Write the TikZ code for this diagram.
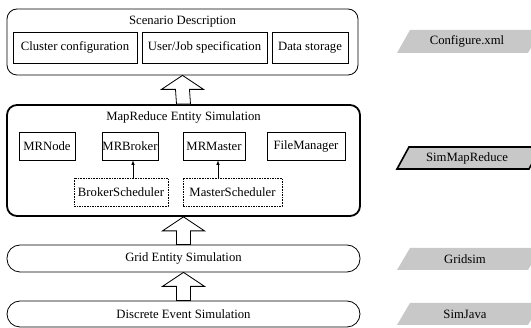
\documentclass[tikz,border=0pt]{standalone}
\usepackage{fontspec}
\setmainfont{Liberation Serif}
\usetikzlibrary{calc}
\definecolor{tagGray}{RGB}{200,200,200}
\begin{document}
\begin{tikzpicture}[x=1pt,y=-1pt,
  font=\fontsize{12.7}{14}\selectfont,
  layer/.style={draw, rounded corners=10pt, line width=0.8pt, inner sep=0pt},
  item/.style={draw, line width=0.6pt, inner sep=0pt, minimum height=28pt},
  sched/.style={draw, line width=0.6pt, dash pattern=on 1.6pt off 1pt, inner sep=0pt, minimum height=28pt},
  bar/.style={draw, rounded corners=13pt, line width=0.8pt, minimum width=353pt, inner sep=0pt},
  blockarrow/.style={draw, fill=white, line width=0.8pt, line join=miter},
  link/.style={->, >=latex, line width=0.6pt},
  tag/.style={fill=tagGray},
  taglabel/.style={inner sep=0pt}
]
\clip (0,0) rectangle (531,328);

% Scenario description layer
\node[layer, minimum width=351pt, minimum height=66pt] (top) at (182.5,42) {};
\node (sd) at (182.5,22) {Scenario Description};
\node[item, minimum width=124pt, minimum height=31pt] (cc) at (75,47.5) {Cluster configuration};
\node[item, minimum width=125pt, minimum height=31pt] (uj) at (204.5,47.5) {User/Job specification};
\node[item, minimum width=76pt, minimum height=31pt] (ds) at (310,47.5) {Data storage};

% MapReduce entity layer
\node[layer, line width=1.8pt, minimum width=353pt, minimum height=111pt] (mre) at (183.5,160.5) {};
\node (mret) at (183.5,117.5) {MapReduce Entity Simulation};
\node[item, minimum width=56pt] (mrn) at (47,146) {MRNode};
\node[item, minimum width=56pt] (mrb) at (130,146) {MRBroker};
\node[item, minimum width=62pt] (mrm) at (214,146) {MRMaster};
\node[item, minimum width=78pt] (fm) at (306,146) {FileManager};
\node[sched, minimum width=94pt] (bs) at (121,192) {BrokerScheduler};
\node[sched, minimum width=99pt] (ms) at (232.5,192) {MasterScheduler};
\draw[link] (bs.north -| 133,0) -- (mrb.south -| 133,0);
\draw[link] (ms.north -| 218,0) -- (mrm.south -| 218,0);

% Lower layers
\node[bar, minimum height=27pt] (grid) at (183.5,258.5) {Grid Entity Simulation};
\node[bar, minimum height=26pt] (des) at (183.5,314) {Discrete Event Simulation};

% Block arrows between layers
\foreach \up/\lo in {top/mre, mre/grid, grid/des}{
  \draw[blockarrow] (\up.south) -- ++(21,14) -- ++(-14,0)
    -- ($(\lo.north)+(7,0)$) -- ($(\lo.north)+(-7,0)$)
    -- ($(\up.south)+(-7,14)$) -- ($(\up.south)+(-21,14)$) -- cycle;
}

% Implementation tags
\fill[tag] (397,53) -- (410,30) -- (541,30) -- (528,53) -- cycle;
\node[taglabel] (cfg) at (467,41.5) {Configure.xml};
\filldraw[tag, draw=black, line width=1.6pt] (397,169) -- (409,147) -- (541,147) -- (529,169) -- cycle;
\node[taglabel] (smr) at (467,158) {SimMapReduce};
\fill[tag] (397,270) -- (410,248) -- (541,248) -- (528,270) -- cycle;
\node[taglabel] (gs) at (465,259) {Gridsim};
\fill[tag] (397,325) -- (410,303) -- (541,303) -- (528,325) -- cycle;
\node[taglabel] (sj) at (465,314) {SimJava};
\end{tikzpicture}
\end{document}
